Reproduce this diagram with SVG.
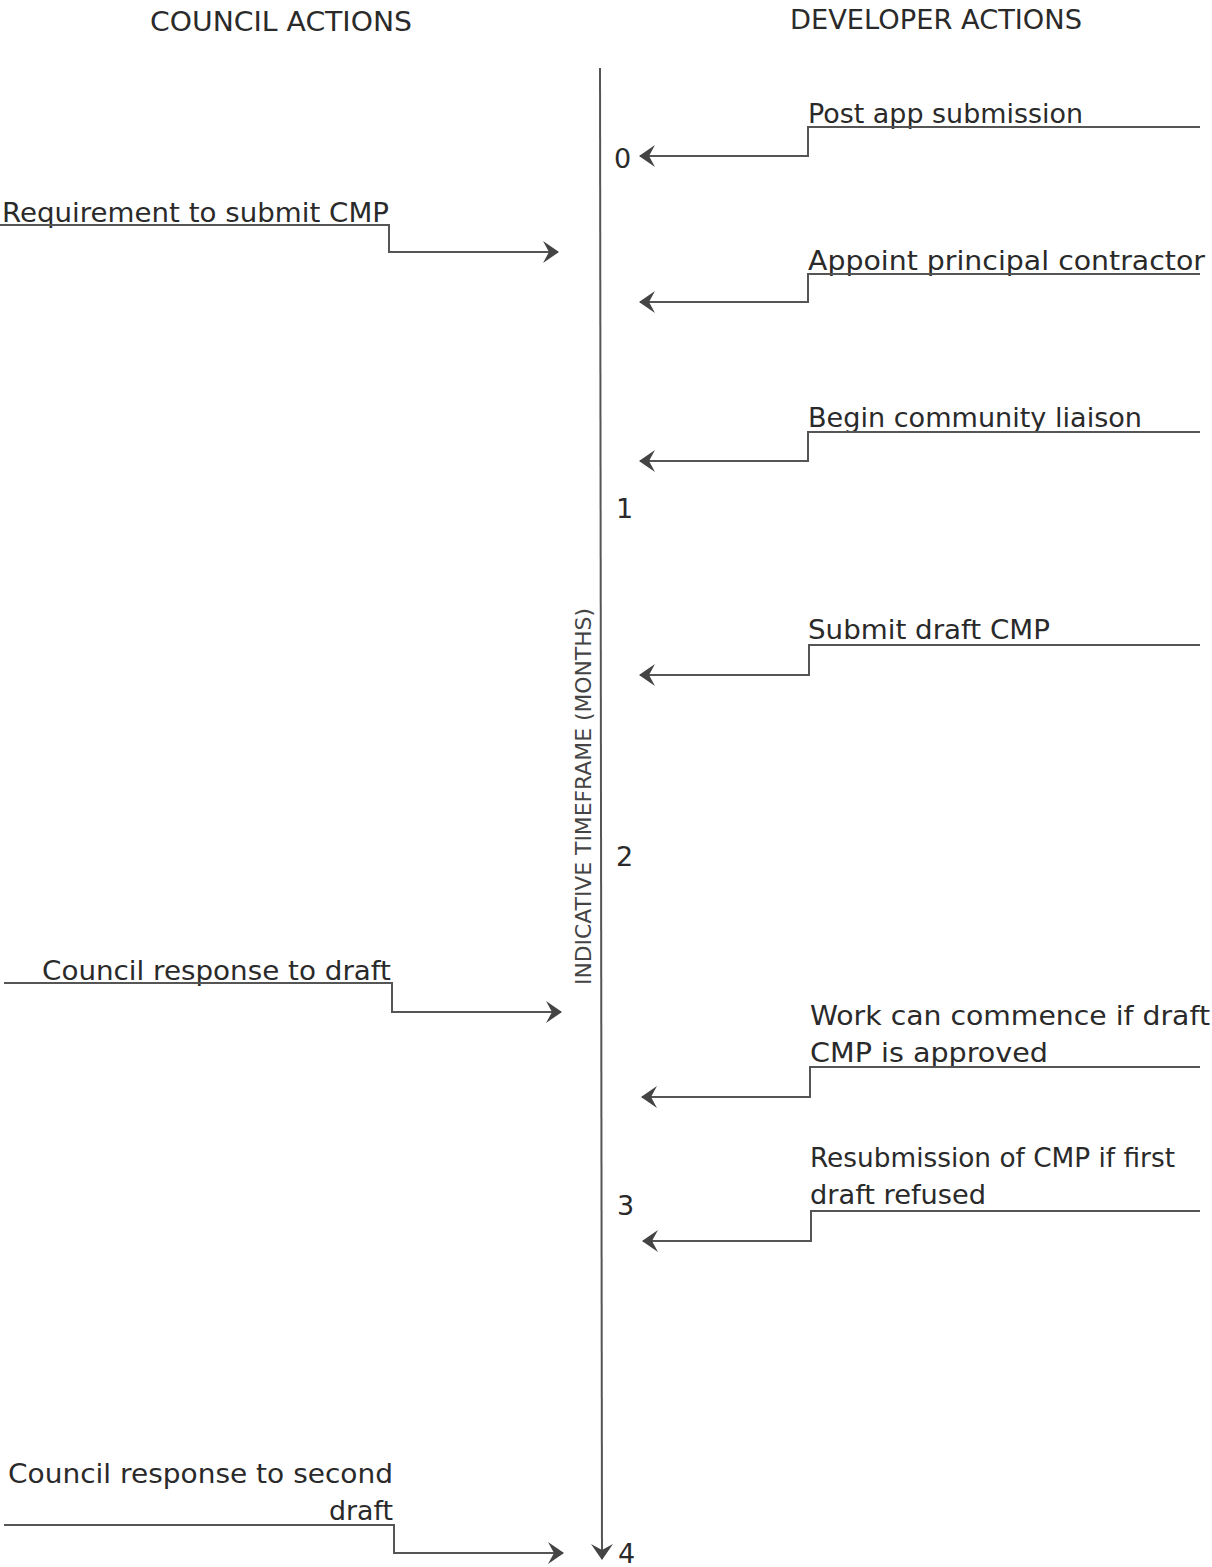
<svg xmlns="http://www.w3.org/2000/svg" width="1212" height="1567" viewBox="0 0 1212 1567">
<defs>
<style>
text{font-family:"DejaVu Sans","Liberation Sans",sans-serif;fill:#2a2a2a;}
.hd{font-size:26px;}
.lb{font-size:27px;}
.tk{font-size:27px;}
.vl{font-size:21px;fill:#444;}
.ln{fill:none;stroke:#555;stroke-width:2;}
.ar{fill:none;stroke:#555;stroke-width:2;marker-end:url(#ah);}
</style>
<marker id="ah" viewBox="0 0 16 22" refX="15" refY="11" markerWidth="16" markerHeight="22" markerUnits="userSpaceOnUse" orient="auto">
<path d="M0,0 L16,11 L0,22 L6,11 z" fill="#444"/>
</marker>
</defs>
<rect width="1212" height="1567" fill="#fff"/>

<g id="headers">
<text class="hd" x="150" y="31" textLength="262" lengthAdjust="spacingAndGlyphs">COUNCIL ACTIONS</text>
<text class="hd" x="790" y="29" textLength="292" lengthAdjust="spacingAndGlyphs">DEVELOPER ACTIONS</text>
</g>

<g id="axis">
<line class="ar" x1="600" y1="68" x2="602" y2="1559"/>
<text class="vl" transform="translate(591,985) rotate(-90)" textLength="377" lengthAdjust="spacingAndGlyphs">INDICATIVE TIMEFRAME (MONTHS)</text>
<text class="tk" x="614" y="168">0</text>
<text class="tk" x="616" y="518">1</text>
<text class="tk" x="616" y="866">2</text>
<text class="tk" x="617" y="1215">3</text>
<text class="tk" x="618" y="1563">4</text>
</g>

<g id="dev1">
<text class="lb" x="808" y="123" textLength="275" lengthAdjust="spacingAndGlyphs">Post app submission</text>
</g>
<g id="dev2">
<text class="lb" x="808" y="270" textLength="397" lengthAdjust="spacingAndGlyphs">Appoint principal contractor</text>
</g>
<g id="dev3">
<text class="lb" x="808" y="427" textLength="334" lengthAdjust="spacingAndGlyphs">Begin community liaison</text>
</g>
<g id="dev4">
<text class="lb" x="808" y="639" textLength="242" lengthAdjust="spacingAndGlyphs">Submit draft CMP</text>
</g>
<g id="dev5">
<text class="lb" x="810" y="1025" textLength="400" lengthAdjust="spacingAndGlyphs">Work can commence if draft</text>
<text class="lb" x="810" y="1062" textLength="238" lengthAdjust="spacingAndGlyphs">CMP is approved</text>
</g>
<g id="dev6">
<text class="lb" x="810" y="1167" textLength="365" lengthAdjust="spacingAndGlyphs">Resubmission of CMP if first</text>
<text class="lb" x="810" y="1204" textLength="176" lengthAdjust="spacingAndGlyphs">draft refused</text>
</g>

<g id="council1">
<text class="lb" x="2" y="222" textLength="387" lengthAdjust="spacingAndGlyphs">Requirement to submit CMP</text>
</g>
<g id="council2">
<text class="lb" x="42" y="980" textLength="349" lengthAdjust="spacingAndGlyphs">Council response to draft</text>
</g>
<g id="council3">
<text class="lb" x="8" y="1483" textLength="385" lengthAdjust="spacingAndGlyphs">Council response to second</text>
<text class="lb" x="329" y="1520" textLength="64" lengthAdjust="spacingAndGlyphs">draft</text>
</g>

<g id="connectors">
<path class="ar" d="M1200,127 H808 V156 H640"/>
<path class="ar" d="M1200,274 H808 V302 H640"/>
<path class="ar" d="M1200,432 H808 V461 H640"/>
<path class="ar" d="M1200,645 H809 V675 H640"/>
<path class="ar" d="M1200,1067 H810 V1097 H642"/>
<path class="ar" d="M1200,1211 H811 V1241 H643"/>
<path class="ar" d="M0,225 H389 V252 H558"/>
<path class="ar" d="M4,983 H392 V1012 H561"/>
<path class="ar" d="M4,1525 H394 V1553 H563"/>
</g>
</svg>
